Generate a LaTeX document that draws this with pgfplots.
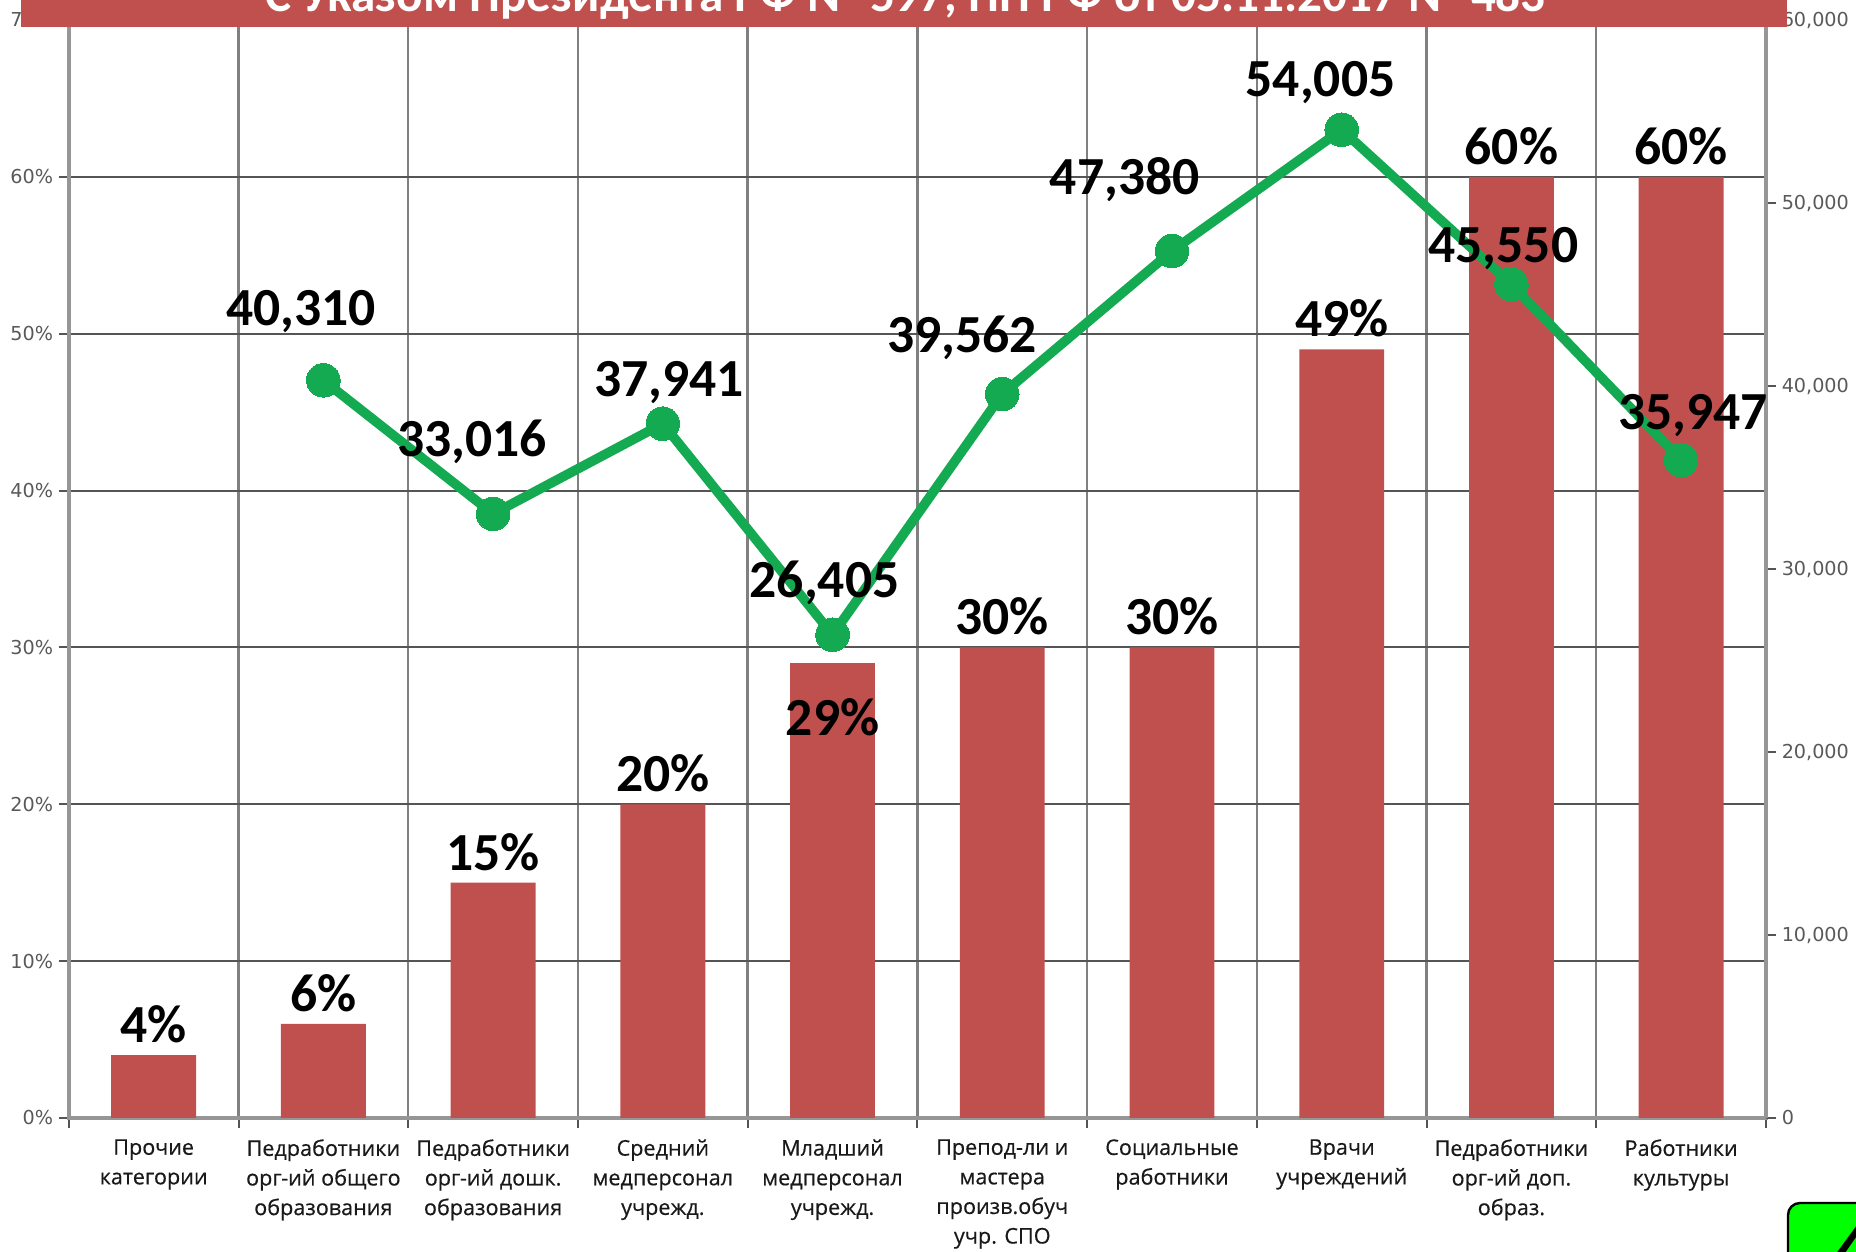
\documentclass[border=0pt]{standalone}
\usepackage{fontspec}
\setmainfont{Carlito}
\newfontfamily\osans[FakeBold=0.4]{Open Sans}
\newfontfamily\dvs{DejaVu Sans}
\usepackage{pgfplots}
\pgfplotsset{compat=1.18}
\definecolor{barred}{RGB}{192,80,77}
\definecolor{lgreen}{RGB}{20,170,82}
\definecolor{gridc}{RGB}{85,85,85}
\definecolor{axisc}{RGB}{150,150,150}

% share of categories (%), label offset
\pgfplotstableread{
x p dy
0 4 7.7
1 6 7.7
2 15 7.7
3 20 7.7
4 29 -13.6
5 30 7.7
6 30 7.7
7 49 7.7
8 60 7.7
9 60 7.7
}\shares

% average wage, label offsets
\pgfplotstableread{
x w dx dy
1 40310 -5.6 17.2
2 33016 -5.3 18.0
3 37941 1.5 10.4
4 26405 -2.0 13.0
5 39562 -10.0 14.0
6 47380 -11.8 17.8
7 54005 -5.3 11.8
8 45550 -2.0 8.9
9 35947 3.0 11.2
}\wages

\pgfplotsset{/pgf/number format/assume math mode=true}

\begin{document}
\begin{tikzpicture}
\begin{axis}[
  at={(17.2pt,33.5pt)}, anchor=south west,
  scale only axis, width=424.3pt, height=274.5pt,
  xmin=-0.5, xmax=9.5, ymin=0, ymax=70,
  xtick={0,...,9},
  xticklabels={{Прочие\\категории},
    {Педработники\\орг-ий общего\\образования},
    {Педработники\\орг-ий дошк.\\образования},
    {Средний\\медперсонал\\учрежд.},
    {Младший\\медперсонал\\учрежд.},
    {Препод-ли и\\мастера\\произв.обуч\\учр. СПО},
    {Социальные\\работники},
    {Врачи\\учреждений},
    {Педработники\\орг-ий доп.\\образ.},
    {Работники\\культуры}},
  minor xtick={-0.5,0.5,...,9.5},
  xminorgrids=true, ymajorgrids=true,
  grid style={gridc, line width=0.5pt},
  minor grid style={gridc!75, line width=0.6pt},
  ytick={0,10,...,70},
  yticklabel={\pgfmathprintnumber{\tick}\%},
  xtick pos=bottom, ytick pos=left,
  tick align=outside,
  major tick length=2.4pt, minor tick length=2.4pt,
  major x tick style={draw=none},
  tick style={gridc, line width=0.5pt},
  axis line style={axisc, line width=1pt},
  yticklabel style={font=\dvs\fontsize{4.8}{6}\selectfont, text=black!65,
    xshift=2pt},
  xticklabel style={font=\osans\fontsize{5.4}{7.4}\selectfont, align=center,
    text=black!90, yshift=0.6pt},
]
\addplot[ybar, bar width=0.5, fill=barred, draw=none,
  nodes near coords={\pgfmathprintnumber{\pgfplotspointmeta}\%},
  visualization depends on={\thisrow{dy} \as \dy},
  every node near coord/.style={anchor=center, yshift=\dy pt, text=black,
    font=\bfseries\fontsize{13.4}{15}\selectfont}]
  table[x=x, y=p] {\shares};
\end{axis}

\begin{axis}[
  at={(17.2pt,33.5pt)}, anchor=south west,
  scale only axis, width=424.3pt, height=274.5pt,
  xmin=-0.5, xmax=9.5, ymin=0, ymax=60000,
  axis x line=none, axis y line*=right,
  ytick={0,10000,...,60000},
  scaled y ticks=false,
  yticklabel style={font=\dvs\fontsize{4.8}{6}\selectfont, text=black!65,
    xshift=-2pt, /pgf/number format/1000 sep={,}},
  tick align=outside, major tick length=2.4pt,
  tick style={gridc, line width=0.5pt},
  axis line style={axisc, line width=1pt},
]
\addplot[lgreen, line width=2.4pt, line join=round,
  mark=*, mark size=4.2pt, mark options={fill=lgreen, draw=lgreen, line width=0pt},
  nodes near coords={\pgfmathprintnumber[1000 sep={,}]{\pgfplotspointmeta}},
  visualization depends on={\thisrow{dx} \as \dx},
  visualization depends on={\thisrow{dy} \as \dy},
  every node near coord/.style={anchor=center, xshift=\dx pt, yshift=\dy pt,
    text=black, font=\bfseries\fontsize{13.4}{15}\selectfont}]
  table[x=x, y=w] {\wages};
\end{axis}

% banner cut by the top edge
\fill[barred] (5.25pt,306.25pt) rectangle (446.75pt,330pt);
\node[white, anchor=base, inner sep=0pt, font=\bfseries\fontsize{12.3}{14}\selectfont]
  at (226.4pt,310.2pt) {С Указом Президента РФ № 597, ПП РФ от 05.11.2017 № 483};

% page number box, bottom right
\draw[black, line width=0.6pt, fill=green, rounded corners=3pt]
  (447pt,-6pt) rectangle (472pt,12.25pt);
\node[anchor=north west, inner sep=0pt, text=black,
  font=\bfseries\fontsize{18}{20}\selectfont] at (458.3pt,6.5pt) {4};

\pgfresetboundingbox
\useasboundingbox (0,0) rectangle (464pt,313pt);
\end{tikzpicture}
\end{document}
